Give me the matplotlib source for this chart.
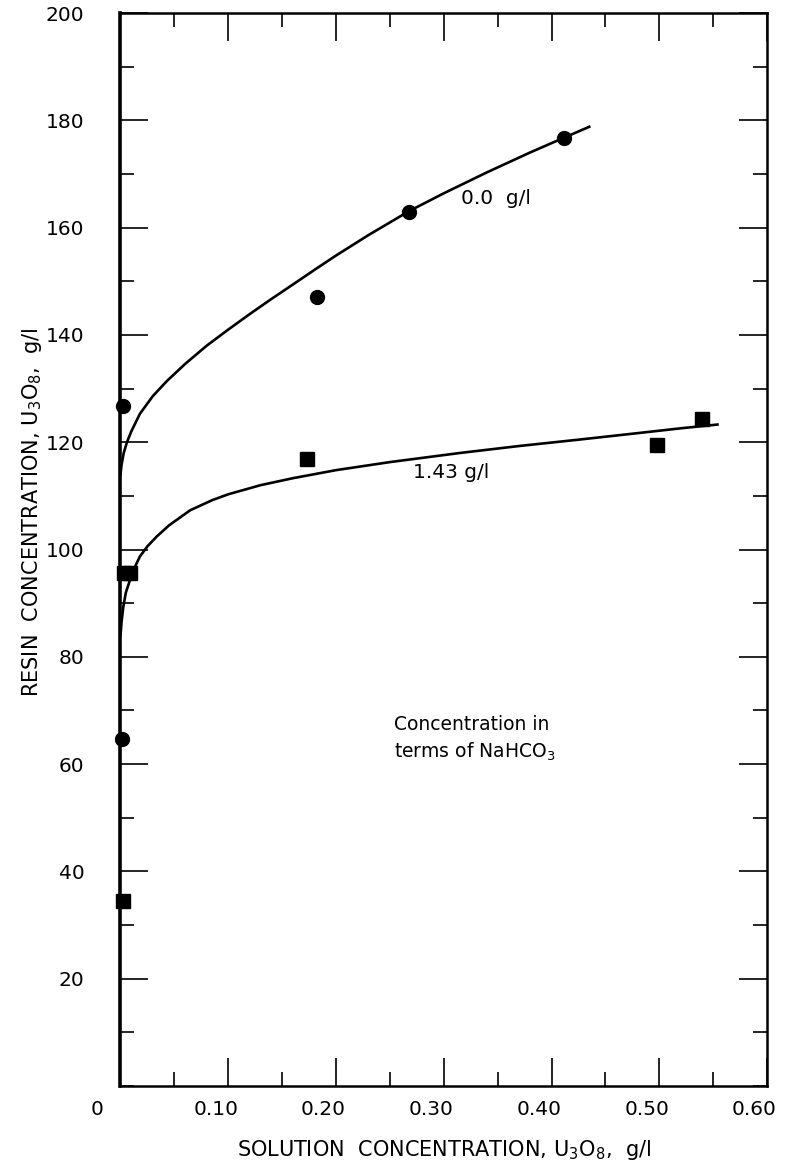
import numpy as np
import matplotlib
matplotlib.use("Agg")
import matplotlib.pyplot as plt
from matplotlib.ticker import MultipleLocator
from matplotlib.transforms import ScaledTranslation

plt.rcParams["font.family"] = ["DejaVu Sans"]
plt.rcParams["mathtext.default"] = "regular"

# measured points, 0.0 g/l NaHCO3 (circles)
circle_x = [0.002, 0.001, 0.182, 0.268, 0.412]
circle_y = [126.7, 64.7, 147.0, 162.9, 176.8]

# measured points, 1.43 g/l NaHCO3 (squares)
square_x = [0.002, 0.003, 0.009, 0.173, 0.4975, 0.540]
square_y = [34.5, 95.7, 95.7, 116.9, 119.5, 124.3]

# hand-drawn isotherm curves
curve0_x = [0.0, 0.001, 0.003, 0.006, 0.010, 0.018, 0.030, 0.043, 0.060, 0.080, 0.100,
            0.120, 0.140, 0.160, 0.182, 0.200, 0.230, 0.268, 0.300, 0.340, 0.380, 0.412, 0.435]
curve0_y = [114.0, 115.8, 118.0, 120.0, 122.0, 125.3, 128.6, 131.4, 134.6, 138.0, 141.0,
            143.9, 146.7, 149.4, 152.4, 154.8, 158.6, 163.1, 166.4, 170.3, 174.0, 176.8, 178.8]
curve1_x = [0.0, 0.001, 0.0026, 0.005, 0.0088, 0.013, 0.018, 0.025, 0.0335, 0.045, 0.0645,
            0.085, 0.100, 0.130, 0.160, 0.200, 0.250, 0.315, 0.370, 0.426, 0.480, 0.520, 0.554]
curve1_y = [84.0, 86.5, 89.3, 92.0, 94.3, 96.6, 98.7, 100.6, 102.4, 104.5, 107.3,
            109.2, 110.3, 112.0, 113.3, 114.8, 116.3, 118.0, 119.3, 120.5, 121.7, 122.6, 123.3]

x_ticks = [0.0, 0.10, 0.20, 0.30, 0.40, 0.50, 0.60]
x_labels = ["0", "0.10", "0.20", "0.30", "0.40", "0.50", "0.60"]
y_ticks = [20, 40, 60, 80, 100, 120, 140, 160, 180, 200]

fig = plt.figure(figsize=(7.88, 11.76), dpi=100)
ax = fig.add_axes([0.1529, 0.0765, 0.8205, 0.9124])

ax.plot(curve0_x, curve0_y, color="black", lw=1.9, solid_joinstyle="round")
ax.plot(curve1_x, curve1_y, color="black", lw=1.9, solid_joinstyle="round")
ax.plot(circle_x, circle_y, "o", color="black", ms=10, clip_on=False, zorder=5)
ax.plot(square_x, square_y, "s", color="black", ms=9.5, clip_on=False, zorder=5)

ax.set_xlim(0, 0.60)
ax.set_ylim(0, 200)

ax.set_xticks(x_ticks)
ax.set_xticklabels(x_labels)
ax.xaxis.set_minor_locator(MultipleLocator(0.05))
ax.set_yticks(y_ticks)
ax.set_yticklabels([str(v) for v in y_ticks])
ax.yaxis.set_minor_locator(MultipleLocator(10))

ax.tick_params(which="both", direction="in", top=True, right=True, width=1.2, colors="black")
ax.tick_params(which="major", length=20)
ax.tick_params(which="minor", length=10)
ax.tick_params(axis="x", which="major", pad=10, labelsize=14.5)
ax.tick_params(axis="y", which="major", pad=26, labelsize=14.5)

# shift x tick labels a little left, as in the original lettering
for i, lab in enumerate(ax.get_xticklabels()):
    dx = -17 / 72 if i == 0 else -9 / 72
    lab.set_transform(lab.get_transform() + ScaledTranslation(dx, 0, fig.dpi_scale_trans))

for side in ["top", "right", "bottom"]:
    ax.spines[side].set_linewidth(1.8)
ax.spines["left"].set_linewidth(2.6)

ax.set_xlabel("SOLUTION  CONCENTRATION, U$_3$O$_8$,  g/l", fontsize=15, labelpad=14)
ax.set_ylabel("RESIN  CONCENTRATION, U$_3$O$_8$,  g/l", fontsize=15)
ax.yaxis.set_label_coords(-0.118, 0.535)

ax.text(0.316, 165.5, "0.0  g/l", fontsize=14.5, ha="left", va="center")
ax.text(0.271, 114.4, "1.43 g/l", fontsize=14.5, ha="left", va="center")
ax.text(0.254, 64.7, "Concentration in\nterms of NaHCO$_3$", fontsize=13.5,
        ha="left", va="center", linespacing=1.4)

fig.savefig("out.png", dpi=100)
